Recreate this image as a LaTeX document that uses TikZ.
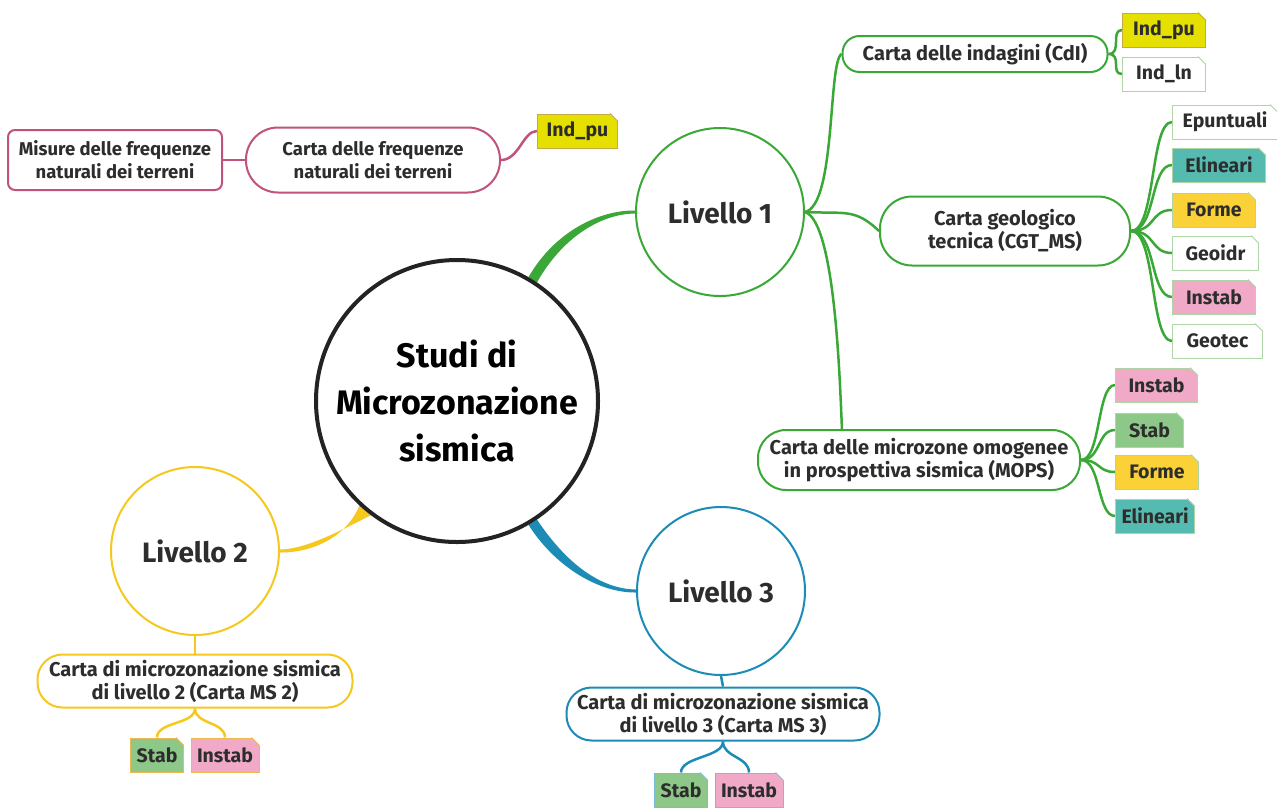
\documentclass[tikz,border=0pt]{standalone}
\usepackage{fontspec}
\setmainfont{Fira Sans}
\usetikzlibrary{calc}
\pgfdeclarelayer{background}
\pgfsetlayers{background,main}
\definecolor{cgreen}{RGB}{58,168,55}
\definecolor{cyellow}{RGB}{246,200,30}
\definecolor{cblue}{RGB}{28,140,182}
\definecolor{cpink}{RGB}{192,82,125}
\definecolor{cdark}{RGB}{35,35,35}
\definecolor{ctext}{RGB}{45,45,45}
\definecolor{tyel}{RGB}{230,224,0}
\definecolor{tgold}{RGB}{250,210,55}
\definecolor{tteal}{RGB}{85,186,176}
\definecolor{tpink}{RGB}{240,170,200}
\definecolor{tgreen}{RGB}{142,200,136}
\definecolor{bgreen}{RGB}{175,212,165}
\definecolor{borange}{RGB}{238,185,80}
\definecolor{bblue}{RGB}{120,190,220}
\definecolor{bolive}{RGB}{195,170,70}
\tikzset{
  bigt/.style={font=\fontsize{34}{47}\selectfont\bfseries},
  levt/.style={font=\fontsize{28}{30}\selectfont\bfseries},
  boxt/.style={font=\fontsize{20}{23}\selectfont\bfseries},
  rbox/.style={draw=#1, line width=2pt, fill=white, text=ctext, align=center, boxt, inner sep=2pt},
  level/.style={circle, draw=#1, line width=2pt, fill=white, minimum size=168pt, text=ctext, levt},
  tagbox/.style={draw=#1, line width=1pt, minimum height=34pt, inner xsep=6pt, text=ctext,
    font=\fontsize{19.5}{21}\selectfont\bfseries, anchor=west},
  link/.style={line width=2.5pt},
}
\begin{document}
\begin{tikzpicture}[x=1pt,y=-1pt]
\useasboundingbox (0,0) rectangle (1277,807);

% central and levels
\node[circle, draw=cdark, line width=4pt, fill=white, minimum size=282pt, bigt, align=center, text=black] (c) at (457,401) {Studi di\\Microzonazione\\sismica};
\node[level=cgreen] (l1) at (720,212) {Livello 1};
\node[level=cyellow] (l2) at (195,551) {Livello 2};
\node[level=cblue] (l3) at (721,591) {Livello 3};

% level 1 boxes
\node[rbox=cgreen, minimum width=265pt, minimum height=36pt, rounded corners=17pt] (cdi) at (975,54) {Carta delle indagini (CdI)};
\node[rbox=cgreen, minimum width=250pt, minimum height=69pt, rounded corners=32pt] (cgt) at (1005,231) {Carta geologico\\tecnica (CGT\_MS)};
\node[rbox=cgreen, minimum width=322pt, minimum height=60pt, rounded corners=28pt] (mops) at (919,460) {Carta delle microzone omogenee\\in prospettiva sismica (MOPS)};

% pink branch
\node[rbox=cpink, minimum width=254pt, minimum height=65pt, rounded corners=32pt, font=\fontsize{18.5}{23}\selectfont\bfseries] (cf) at (373,160) {Carta delle frequenze\\naturali dei terreni};
\node[rbox=cpink, minimum width=214pt, minimum height=60pt, rounded corners=7pt, font=\fontsize{18.5}{23}\selectfont\bfseries] (mis) at (115,160) {Misure delle frequenze\\naturali dei terreni};
\node[tagbox=bolive, fill=tyel, minimum width=80pt] (ipu2) at (537,131) {Ind\_pu};

% level 2 / 3 boxes
\node[rbox=cyellow, minimum width=315pt, minimum height=53pt, rounded corners=25pt] (ms2) at (195,681) {Carta di microzonazione sismica\\di livello 2 (Carta MS 2)};
\node[rbox=cblue, minimum width=313pt, minimum height=53pt, rounded corners=25pt] (ms3) at (723,714) {Carta di microzonazione sismica\\di livello 3 (Carta MS 3)};

% CdI tags
\node[tagbox=bolive, fill=tyel, minimum width=83pt] (ipu) at (1122,30) {Ind\_pu};
\node[tagbox=bgreen, fill=white, minimum width=83pt] (iln) at (1122,74) {Ind\_ln};

% CGT tags
\node[tagbox=bgreen, fill=white, minimum width=105pt] (ep) at (1172,122) {Epuntuali};
\node[tagbox=bgreen, fill=tteal, minimum width=93pt] (el) at (1172,165) {Elineari};
\node[tagbox=bgreen, fill=tgold, minimum width=83pt] (fo) at (1172,210) {Forme};
\node[tagbox=bgreen, fill=white, minimum width=86pt] (ge) at (1172,253) {Geoidr};
\node[tagbox=bgreen, fill=tpink, minimum width=83pt] (in) at (1172,297) {Instab};
\node[tagbox=bgreen, fill=white, minimum width=90pt] (gt) at (1172,341) {Geotec};

% MOPS tags
\node[tagbox=bgreen, fill=tpink, minimum width=82pt] (m1) at (1115,385) {Instab};
\node[tagbox=bgreen, fill=tgreen, minimum width=68pt] (m2) at (1115,430) {Stab};
\node[tagbox=bgreen, fill=tgold, minimum width=83pt] (m3) at (1115,472) {Forme};
\node[tagbox=bgreen, fill=tteal, minimum width=77pt] (m4) at (1115,516) {Elineari};

% level 2/3 tags
\node[tagbox=borange, fill=tgreen, minimum width=52pt, anchor=center] (s2) at (157,755) {Stab};
\node[tagbox=borange, fill=tpink, minimum width=66pt, anchor=center] (i2) at (225,755) {Instab};
\node[tagbox=bblue, fill=tgreen, minimum width=52pt, anchor=center] (s3) at (681,790) {Stab};
\node[tagbox=bblue, fill=tpink, minimum width=66pt, anchor=center] (i3) at (749,790) {Instab};

% folded (cut) top-right corners of the tags
\foreach \t/\b in {ipu2/bolive, ipu/bolive, iln/bgreen, ep/bgreen, el/bgreen, fo/bgreen, ge/bgreen, in/bgreen, gt/bgreen,
                   m1/bgreen, m2/bgreen, m3/bgreen, m4/bgreen, s2/borange, i2/borange, s3/bblue, i3/bblue} {
  \fill[white] ([xshift=-8pt]\t.north east) -- ([xshift=-8pt,yshift=2pt]\t.north east)
     -- ([xshift=2pt,yshift=2pt]\t.north east) -- ([xshift=2pt,yshift=-8pt]\t.north east)
     -- ([yshift=-8pt]\t.north east) -- cycle;
  \draw[\b, line width=1pt] ([xshift=-8pt]\t.north east) -- ([yshift=-8pt]\t.north east);
}

\begin{pgfonlayer}{background}
  \fill[white] (0,0) rectangle (1277,807);
  % tapered main connectors
  \fill[cgreen] (c.56) .. controls (562,238) and (600,214) .. ([yshift=-1.5pt]l1.west)
     -- ([yshift=1.5pt]l1.west) .. controls (600,210) and (555,231) .. (c.60) -- cycle;
  \fill[cyellow] (c.227) .. controls (344,542) and (305,553) .. ([yshift=-1.5pt]l2.east)
     -- ([yshift=1.5pt]l2.east) .. controls (305,549) and (334,534) .. (c.233) -- cycle;
  \fill[cblue] (c.300) .. controls (556,568) and (600,593) .. ([yshift=-1.5pt]l3.west)
     -- ([yshift=1.5pt]l3.west) .. controls (600,589) and (566,563) .. (c.304) -- cycle;

  \begin{scope}[cgreen, link]
    \draw (l1.east) .. controls (836,205) and (828,62) .. (cdi.west);
    \draw (l1.east) .. controls (845,214) and (855,208) .. (cgt.west);
    \draw (l1.east) .. controls (836,222) and (840,390) .. ([xshift=85pt]mops.north west);
    \draw (cdi.east) .. controls +(14,0) and +(-12,0) .. (ipu.west);
    \draw (cdi.east) .. controls +(14,0) and +(-12,0) .. (iln.west);
    \foreach \t in {ep,el,fo,ge,in,gt}
      \draw (cgt.east) .. controls +(25,0) and +(-22,0) .. (\t.west);
    \foreach \t in {m1,m2,m3,m4}
      \draw (mops.east) .. controls +(20,0) and +(-18,0) .. (\t.west);
  \end{scope}
  \begin{scope}[cpink, link]
    \draw (mis.east) -- (cf.west);
    \draw (cf.east) .. controls +(18,0) and +(-14,0) .. (ipu2.west);
  \end{scope}
  \begin{scope}[cyellow, link]
    \draw (l2.south) -- (ms2.north);
    \draw (ms2.south) .. controls +(0,16) and +(0,-16) .. (s2.north);
    \draw (ms2.south) .. controls +(0,16) and +(0,-16) .. (i2.north);
  \end{scope}
  \begin{scope}[cblue, link]
    \draw (l3.south) -- (ms3.north);
    \draw (ms3.south) .. controls +(0,16) and +(0,-16) .. (s3.north);
    \draw (ms3.south) .. controls +(0,16) and +(0,-16) .. (i3.north);
  \end{scope}
\end{pgfonlayer}
\end{tikzpicture}
\end{document}
